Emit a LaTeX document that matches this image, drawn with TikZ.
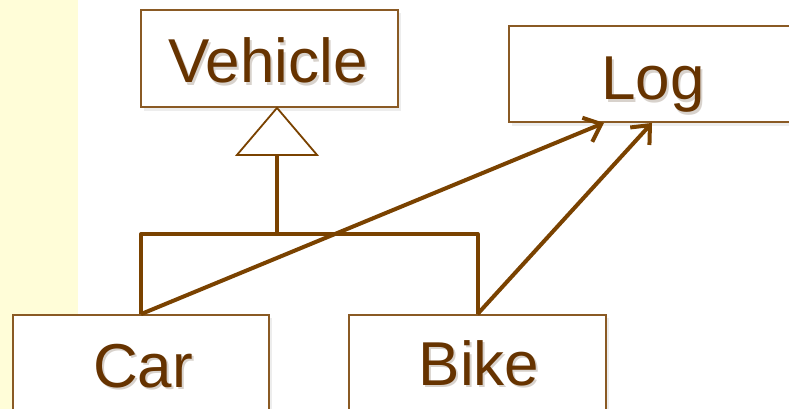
\documentclass[tikz,border=0pt]{standalone}
\usepackage{fontspec}
\setmainfont{Liberation Sans}
\usetikzlibrary{arrows.meta}
\definecolor{sidebar}{HTML}{FFFDD8}
\definecolor{umlline}{HTML}{7A4200}
\definecolor{umlbox}{HTML}{8A5A24}
\definecolor{umltext}{HTML}{663300}
\definecolor{textshade}{HTML}{D8D2CC}
% class name with a faint drop shadow set behind it
\newcommand{\shadedname}[1]{%
  \makebox[0pt][l]{\hspace{2pt}\raisebox{-2.5pt}{\textcolor{textshade}{#1}}}#1}
\tikzset{
  classbox/.style={draw=umlbox, line width=1.8pt, fill=white, rectangle,
    inner sep=0pt},
  classname/.style={anchor=base, text=umltext, inner sep=0pt,
    font=\fontsize{62}{62}\selectfont},
  boxshadow/.style={fill=black, opacity=0.07},
  conn/.style={draw=umlline, line width=4pt, line join=round},
  dep/.style={conn, -{Straight Barb[length=15pt, width=26pt, line width=4pt]}},
  gen/.style={draw=umlline, line width=1.8pt, fill=white, line join=miter}
}
\begin{document}
\begin{tikzpicture}[x=1pt, y=-1pt]
  \useasboundingbox (0,0) rectangle (789,409);
  \clip (0,0) rectangle (789,409);
  \fill[white] (0,0) rectangle (789,409);
  \fill[sidebar] (0,0) rectangle (78,409);

  % soft shadows behind the class boxes
  \fill[boxshadow] (144,13) rectangle (401,111);
  \fill[boxshadow] (512,29) rectangle (800,126);
  \fill[boxshadow] (16,318) rectangle (272,420);
  \fill[boxshadow] (352,318) rectangle (609,420);

  % class boxes
  \node[classbox, minimum width=257pt, minimum height=97pt] (Vehicle) at (269.5,58.5) {};
  \node[classbox, minimum width=288pt, minimum height=96pt] (Log) at (653,74) {};
  \node[classbox, minimum width=256pt, minimum height=100pt] (Car) at (141,365) {};
  \node[classbox, minimum width=257pt, minimum height=100pt] (Bike) at (477.5,365) {};

  % class names
  \node[classname] (VehicleName) at (268,83) {\shadedname{Vehicle}};
  \node[classname] (LogName) at (653,100) {\shadedname{Log}};
  \node[classname] (CarName) at (143,387) {\shadedname{Car}};
  \node[classname] (BikeName) at (479,385) {\shadedname{Bike}};

  % generalisation: Car and Bike inherit from Vehicle
  \coordinate (apex) at ([xshift=7.5pt]Vehicle.south);
  \coordinate (base) at ([yshift=-47pt]apex);
  \coordinate (bar) at (277,234);
  \draw[conn] (Car.north) |- (bar) -| (Bike.north);
  \draw[conn] (bar) -- (base);
  \draw[gen] (apex) -- ([xshift=40pt]base) -- ([xshift=-40pt]base) -- cycle;

  % dependencies on Log
  \draw[dep] (Car.north) -- ([xshift=-49pt]Log.south);
  \draw[dep] (Bike.north) -- ([xshift=-1pt]Log.south);
\end{tikzpicture}
\end{document}
